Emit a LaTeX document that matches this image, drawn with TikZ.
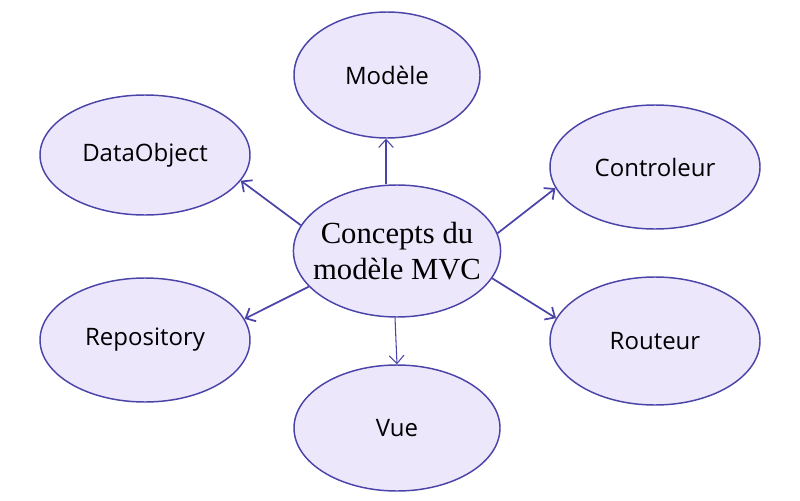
\documentclass[tikz,border=0pt]{standalone}
\usepackage{fontspec}
\setmainfont{Liberation Serif}
\setsansfont{Open Sans}
\usetikzlibrary{shapes.geometric,arrows.meta}
\definecolor{fillc}{HTML}{EDE7FC}
\definecolor{linec}{HTML}{4B44A8}
\begin{document}
\begin{tikzpicture}[x=0.75pt,y=-0.75pt,
  bubble/.style={ellipse,draw=linec,fill=fillc,line width=1.1pt,inner sep=0pt,
    font=\sffamily\fontsize{18}{22}\selectfont,text=black},
  link/.style={draw=linec,line width=1.3pt,-{Straight Barb[length=6pt,width=11pt]}}]
\useasboundingbox (0,0) rectangle (800,500);
\node[bubble,minimum width=154.5pt,minimum height=99pt,inner xsep=-8pt,font=\rmfamily\fontsize{23}{27}\selectfont,align=center] (c) at (397,251) {Concepts du\\modèle MVC};
\node[bubble,minimum width=139.5pt,minimum height=94.5pt] (m) at (387,75) {Modèle};
\node[bubble,minimum width=157.5pt,minimum height=90pt] (d) at (145,155) {DataObject};
\node[bubble,minimum width=157.5pt,minimum height=93pt] (k) at (655,167) {Controleur};
\node[bubble,minimum width=157.5pt,minimum height=93pt] (r) at (145,340) {Repository};
\node[bubble,minimum width=157.5pt,minimum height=96pt] (o) at (655,341) {Routeur};
\node[bubble,minimum width=154.5pt,minimum height=94.5pt] (v) at (397,428) {Vue};
\draw[link,line width=0.8pt] (c.north -| 386,0) -- (m.south -| 386,0);
\draw[link,line width=0.8pt] (c.south -| 395,0) -- (v.north -| 397,0);
\draw[link] (c.165) -- (d.-15);
\draw[link] (c.10) -- (k.-168);
\draw[link] (c.202) -- (r.12);
\draw[link] (c.-16) -- (o.167);
\end{tikzpicture}
\end{document}
